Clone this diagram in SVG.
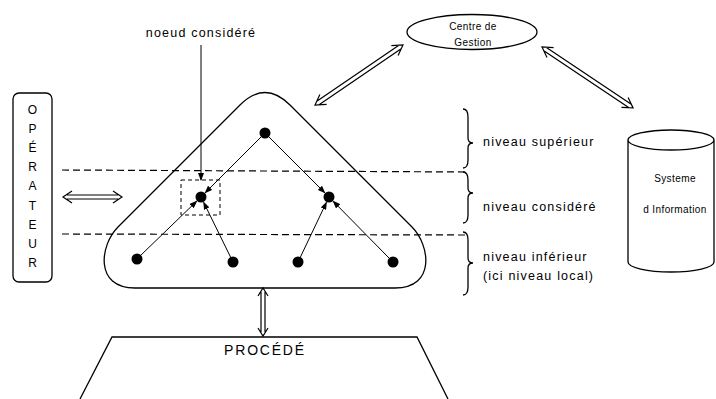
<svg xmlns="http://www.w3.org/2000/svg" width="716" height="399" viewBox="0 0 716 399">
<defs>
<style>
text{font-family:"Liberation Sans",Arial,Helvetica,sans-serif;fill:#000}
.s{fill:none;stroke:#000;stroke-width:1.3}
.lbl{font-size:12.5px;letter-spacing:1.2px}
.sm{font-size:10px;letter-spacing:0.4px}
.op{font-size:12px;text-anchor:middle}
.dl{fill:none;stroke:#000;stroke-width:1.2;stroke-dasharray:7,4}
.edge{fill:none;stroke:#000;stroke-width:1;marker-end:url(#ah)}
.dbl{fill:none;stroke:#000;stroke-width:1.2}
.node{fill:#000}
</style>
<marker id="ah" markerWidth="8" markerHeight="6" refX="7" refY="3" orient="auto" markerUnits="userSpaceOnUse">
<path d="M0,0 L8,3 L0,6 Z" fill="#000"/>
</marker>
</defs>
<rect width="716" height="399" fill="#fff"/>

<g id="levels">
<line class="dl" x1="62" y1="170" x2="468" y2="172"/>
<line class="dl" x1="62" y1="234" x2="468" y2="235"/>
</g>

<g id="operateur">
<rect class="s" x="13" y="93" width="39" height="189" rx="6"/>
<text class="op" x="32.5" y="114">O</text>
<text class="op" x="32.5" y="133">P</text>
<text class="op" x="32.5" y="152">É</text>
<text class="op" x="32.5" y="171">R</text>
<text class="op" x="32.5" y="190">A</text>
<text class="op" x="32.5" y="210">T</text>
<text class="op" x="32.5" y="229">E</text>
<text class="op" x="32.5" y="248">U</text>
<text class="op" x="32.5" y="267">R</text>
</g>

<g id="hierarchie">
<path class="s" d="M 240,105 Q 265,80 290,105 L 412,227 C 430,245 436,288 395,288 L 135,288 C 94,288 100,245 118,227 Z"/>
</g>

<g id="noeuds">
<circle class="node" cx="265" cy="133" r="5.5"/>
<circle class="node" cx="201" cy="197" r="5.5"/>
<circle class="node" cx="329" cy="197" r="5.5"/>
<circle class="node" cx="137" cy="259" r="5.5"/>
<circle class="node" cx="233" cy="262" r="5.5"/>
<circle class="node" cx="298" cy="262" r="5.5"/>
<circle class="node" cx="393" cy="262" r="5.5"/>
<rect x="181" y="180" width="39" height="35" fill="none" stroke="#000" stroke-width="1" stroke-dasharray="4,3"/>
</g>

<g id="noeud-considere">
<text class="lbl" x="201" y="37" text-anchor="middle">noeud considéré</text>
</g>

<g id="centre-gestion">
<ellipse class="s" cx="472" cy="32" rx="65" ry="17.5"/>
<text class="sm" x="473" y="30" text-anchor="middle">Centre de</text>
<text class="sm" x="473" y="46" text-anchor="middle">Gestion</text>
</g>

<g id="systeme-information">
<path class="s" d="M 628,140 A 43,10 0 0 1 714,140 L 714,262 A 43,10 0 0 1 628,262 Z M 628,140 A 43,10 0 0 0 714,140"/>
<text class="sm" x="675" y="182" text-anchor="middle">Systeme</text>
<text class="sm" x="675" y="213" text-anchor="middle">d Information</text>
</g>

<g id="niveaux">
<path class="s" d="M 463,109 Q 468,109 468,117 L 468,138 Q 468,143 473,143 Q 468,143 468,148 L 468,160 Q 468,168 463,168"/>
<path class="s" d="M 463,172 Q 468,172 468,180 L 468,188 Q 468,193 473,193 Q 468,193 468,198 L 468,215 Q 468,223 463,223"/>
<path class="s" d="M 463,232 Q 468,232 468,240 L 468,258 Q 468,263 473,263 Q 468,263 468,268 L 468,287 Q 468,295 463,295"/>
<text class="lbl" x="483" y="146">niveau supérieur</text>
<text class="lbl" x="483" y="211">niveau considéré</text>
<text class="lbl" x="483" y="261">niveau inférieur</text>
<text class="lbl" x="483" y="280">(ici niveau local)</text>
</g>

<g id="procede">
<path class="s" d="M 80,399 L 112,337 L 417,337 L 448,399"/>
<text x="265" y="355" text-anchor="middle" style="font-size:14px;letter-spacing:1.8px">PROCÉDÉ</text>
</g>

<g id="connecteurs">
<line class="edge" x1="201" y1="45" x2="201" y2="180"/>
<line class="edge" x1="261.5" y1="136.5" x2="205.2" y2="192.8"/>
<line class="edge" x1="268.5" y1="136.5" x2="324.8" y2="192.8"/>
<line class="edge" x1="140" y1="256" x2="196.7" y2="201.2"/>
<line class="edge" x1="231.5" y1="259" x2="203.7" y2="202.4"/>
<line class="edge" x1="299.5" y1="259" x2="326.4" y2="202.4"/>
<line class="edge" x1="390" y1="259" x2="333.2" y2="201.3"/>
<g transform="translate(63,197)"><path class="dbl" d="M 4,-2 H 55 M 4,2 H 55 M 9,-6 L 0,0 L 9,6 M 50,-6 L 59,0 L 50,6"/></g>
<g transform="translate(315,105) rotate(-34.3)"><path class="dbl" d="M 4,-2 H 102.5 M 4,2 H 102.5 M 10,-6 L 0,0 L 10,6 M 96.5,-6 L 106.5,0 L 96.5,6"/></g>
<g transform="translate(542,47) rotate(33.8)"><path class="dbl" d="M 4,-2 H 105.6 M 4,2 H 105.6 M 10,-6 L 0,0 L 10,6 M 99.6,-6 L 109.6,0 L 99.6,6"/></g>
<g transform="translate(263,288) rotate(90)"><path class="dbl" d="M 4,-2 H 44 M 4,2 H 44 M 8,-5 L 0,0 L 8,5 M 40,-5 L 48,0 L 40,5"/></g>
</g>
</svg>
